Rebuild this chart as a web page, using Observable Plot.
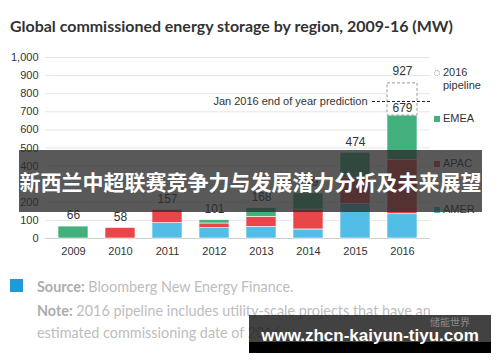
<!DOCTYPE html>
<html>
<head>
<meta charset="utf-8">
<script src="https://cdn.jsdelivr.net/npm/d3@7"></script>
<script src="https://cdn.jsdelivr.net/npm/@observablehq/plot@0.6"></script>
<style>
  html, body { margin: 0; padding: 0; background: #fff; }
  #page { position: relative; width: 500px; height: 362px; overflow: hidden; background: #fff; font-family: "Liberation Sans", Arial, sans-serif; }
  #title { position: absolute; left: 10px; top: 16px; font-family: Lato, "Noto Sans", sans-serif; font-weight: 700; color: #333; white-space: nowrap; line-height: 20px; }
  #chart { position: absolute; left: 0; top: 40px; }
  .leg { position: absolute; left: 443px; font-size: 11px; color: #333; line-height: 13px; white-space: nowrap; }
  .sw { position: absolute; left: 434px; width: 6px; height: 6px; }
  .foot { position: absolute; left: 37px; font-family: Lato, "Noto Sans", sans-serif; color: #bdbdbd; white-space: nowrap; line-height: 16px; }
  .foot b { color: #adadad; }
  #banner { position: absolute; left: 19px; top: 150px; width: 463px; height: 62px; background: rgba(45,45,45,0.79); color: #fff; font-family: "Noto Sans CJK SC", sans-serif; font-weight: 700; font-size: 21px; line-height: 62px; text-align: center; white-space: nowrap; }
  #wm { position: absolute; left: 249px; top: 315px; width: 242px; height: 38px; background: rgba(25,25,25,0.82); }
  #wmBottom { position: absolute; left: 249px; top: 342px; width: 242px; height: 11px; background: #000; }
  #wmUrl { position: absolute; left: 249px; top: 326px; width: 242px; text-align: center; color: #fff; font-family: "Liberation Sans", Arial, sans-serif; font-weight: 700; font-size: 17px; line-height: 20px; white-space: nowrap; }
  #wmSmall { position: absolute; left: 430px; top: 316px; color: rgba(200,200,200,0.55); font-family: "Noto Sans CJK SC", sans-serif; font-size: 10px; line-height: 12px; }
</style>
</head>
<body>
<div id="page">
  <div id="title">Global commissioned energy storage by region, 2009-16 (MW)</div>
  <div id="chart"></div>
  <div id="legend"></div>
  <div id="footer"></div>
  <div id="banner">新西兰中超联赛竞争力与发展潜力分析及未来展望</div>
  <div id="wm"></div>
  <div id="wmBottom"></div>
  <div id="wmSmall">储能世界</div>
  <div id="wmUrl">www.zhcn-kaiyun-tiyu.com</div>
</div>
<script>
// ---- data ----
const years = ["2009", "2010", "2011", "2012", "2013", "2014", "2015", "2016"];
const regions = ["AMER", "APAC", "EMEA"];
const amer = [0, 0, 85, 57, 64, 50, 190, 134];
const apac = [0, 58, 72, 26, 56, 110, 145, 300];
const emea = [66, 0, 0, 18, 48, 89, 139, 245];
const totalLabels = ["66", "58", "157", "101", "168", "249", "474", "679"];
const pipelineYear = "2016";
const pipelineTop = 857;
const pipelineLabel = "927";
const predictionValue = 757;
const predictionText = "Jan 2016 end of year prediction";
const yTicks = [0, 100, 200, 300, 400, 500, 600, 700, 800, 900, 1000];
const legendItems = ["2016 pipeline", "EMEA", "APAC", "AMER"];
const colors = {AMER: "#52bde6", APAC: "#e8474a", EMEA: "#44b07e"};

// ---- build tables ----
const series = {AMER: amer, APAC: apac, EMEA: emea};
const rows = years.flatMap((yr, i) => regions.map(r => ({year: yr, region: r, value: series[r][i]}))).filter(d => d.value > 0);
const totals = years.map((yr, i) => ({year: yr, total: amer[i] + apac[i] + emea[i], label: totalLabels[i]}));
const pipeline = [{year: pipelineYear, y1: totals[years.indexOf(pipelineYear)].total, y2: pipelineTop, label: pipelineLabel}];
const prediction = [{year: pipelineYear, y: predictionValue, text: predictionText}];

const chart = Plot.plot({
  width: 440,
  height: 228,
  marginTop: 17,
  marginBottom: 30,
  marginLeft: 45,
  marginRight: 10,
  style: {fontFamily: "'Liberation Sans', Arial, sans-serif", fontSize: "11px", color: "#333", background: "transparent"},
  x: {domain: years, paddingInner: 0.366, paddingOuter: 0.253, label: null, tickSize: 0, tickPadding: 9},
  y: {domain: [0, 1000], ticks: yTicks, tickFormat: d3.format(","), label: null, tickSize: 0, tickPadding: 7},
  color: {domain: regions, range: regions.map(r => colors[r])},
  marks: [
    Plot.ruleY(yTicks.slice(1), {stroke: "#e6e6e6"}),
    Plot.ruleY([0], {stroke: "#cfcfcf"}),
    Plot.barY(rows, {x: "year", y: "value", fill: "region", stroke: "#fff", strokeWidth: 0.6}),
    Plot.barY(pipeline, {x: "year", y1: "y1", y2: "y2", fill: "#fff", stroke: "#9a9a9a", strokeDasharray: "3,2"}),
    Plot.tickY(prediction, {x: "year", y: "y", stroke: "#222", strokeDasharray: "3,2", insetLeft: -15, insetRight: -15}),
    Plot.text(prediction, {x: "year", y: "y", text: "text", textAnchor: "end", dx: -35, fontSize: 11, fill: "#333"}),
    Plot.text(totals.filter(d => d.year !== pipelineYear), {x: "year", y: "total", text: "label", dy: -11, fontSize: 12, fill: "#333"}),
    Plot.text(totals.filter(d => d.year === pipelineYear), {x: "year", y: "total", text: "label", dy: -7, fontSize: 12, fill: "#333"}),
    Plot.text(pipeline, {x: "year", y: "y2", text: "label", dy: -12, fontSize: 12, fill: "#333"})
  ]
});
document.getElementById("chart").appendChild(chart);

// ---- legend ----
const legend = document.getElementById("legend");
const legTops = [66, 112, 157, 203];
legendItems.forEach((name, i) => {
  const t = document.createElement("div");
  t.className = "leg";
  t.style.top = legTops[i] + "px";
  t.innerHTML = name === "2016 pipeline" ? "2016<br>pipeline" : name;
  legend.appendChild(t);
  const s = document.createElement("div");
  s.className = "sw";
  s.style.top = (legTops[i] + 4) + "px";
  if (name === "2016 pipeline") {
    s.style.border = "1px dotted #999";
    s.style.borderRadius = "50%";
    s.style.width = "4px"; s.style.height = "4px";
  } else {
    s.style.background = colors[name];
  }
  legend.appendChild(s);
});

// ---- footer ----
const footer = document.getElementById("footer");
const sq = document.createElement("div");
Object.assign(sq.style, {position: "absolute", left: "10px", top: "279px", width: "13px", height: "13px", background: "#1f9ad6"});
footer.appendChild(sq);
const footLines = [
  ["Source:", " Bloomberg New Energy Finance.", 279],
  ["Note:", " 2016 pipeline includes utility-scale projects that have an", 303],
  ["", "estimated commissioning date of 2016.", 325]
];
footLines.forEach(([b, t, top]) => {
  const d = document.createElement("div");
  d.className = "foot";
  d.style.top = top + "px";
  d.style.fontSize = "14.4px";
  d.innerHTML = (b ? "<b>" + b + "</b>" : "") + t;
  footer.appendChild(d);
});

// fit title width
const title = document.getElementById("title");
title.style.fontSize = "15px";
const w = title.getBoundingClientRect().width;
title.style.fontSize = (15 * 443 / w).toFixed(2) + "px";
</script>
</body>
</html>
